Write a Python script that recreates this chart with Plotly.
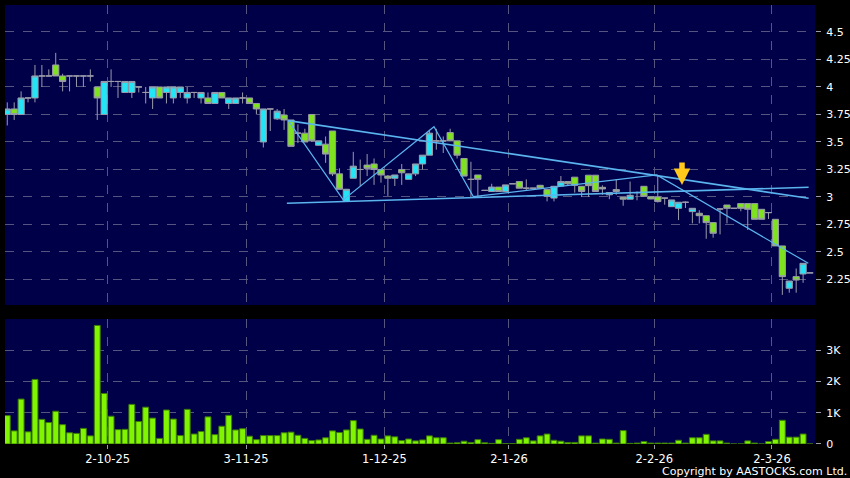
import plotly.graph_objects as go

# ---- data (index = trading-day position) ----
opens = [3.75,3.80,3.75,3.90,3.90,4.10,4.10,4.20,4.10,4.10,4.10,4.10,4.10,4.00,3.75,4.05,4.05,3.95,3.95,4.00,
         3.95,3.90,4.00,3.95,3.90,3.95,3.90,3.95,3.90,3.90,3.85,3.95,3.85,3.85,3.90,3.90,3.85,3.50,3.80,3.71,
         3.745,3.70,3.58,3.58,3.75,3.47,3.48,3.60,3.21,2.96,3.17,3.25,3.29,3.30,3.25,3.19,3.17,3.25,3.16,3.21,
         3.30,3.38,3.51,3.51,3.585,3.51,3.35,3.16,3.20,3.06,3.05,3.09,3.05,3.12,3.14,3.08,3.08,3.106,3.067,2.99,
         3.10,3.14,3.18,3.097,3.198,3.198,3.088,3.02,3.067,2.997,2.98,3.04,3.097,3.003,3.00,2.99,2.912,2.897,2.952,2.867,
         2.852,2.83,2.767,2.891,2.927,2.897,2.94,2.94,2.94,2.888,2.858,2.797,2.555,2.17,2.276,2.30,2.31]
highs = [3.86,3.86,3.96,3.90,4.20,4.20,4.16,4.31,4.12,4.10,4.10,4.10,4.16,4.00,4.05,4.16,4.05,4.05,4.05,4.00,
         4.00,4.00,4.00,4.00,4.00,4.00,4.00,3.95,3.95,3.95,3.95,3.95,3.90,3.90,3.95,3.90,3.85,3.80,3.80,3.80,
         3.80,3.70,3.66,3.62,3.75,3.51,3.55,3.60,3.26,3.07,3.41,3.34,3.39,3.35,3.25,3.20,3.20,3.30,3.21,3.30,
         3.38,3.61,3.62,3.55,3.62,3.51,3.35,3.32,3.20,3.06,3.12,3.09,3.11,3.12,3.14,3.16,3.08,3.11,3.07,3.10,
         3.19,3.14,3.18,3.10,3.198,3.198,3.106,3.04,3.16,2.997,3.14,3.05,3.097,3.003,3.19,2.99,2.973,2.952,2.96,2.897,
         2.88,2.83,2.767,2.891,2.927,2.897,2.94,2.94,2.94,2.888,2.858,2.797,2.555,2.236,2.35,2.397,2.31]
lows = [3.65,3.70,3.75,3.86,3.86,4.00,4.10,4.10,3.96,3.96,4.00,4.00,4.05,3.70,3.75,4.00,3.90,3.95,3.90,3.95,
        3.85,3.80,3.90,3.85,3.85,3.90,3.85,3.90,3.85,3.85,3.85,3.90,3.80,3.85,3.85,3.85,3.75,3.45,3.60,3.70,
        3.61,3.46,3.49,3.50,3.50,3.47,3.31,3.19,3.07,2.96,3.17,3.10,3.19,3.11,3.13,3.01,3.10,3.11,3.16,3.19,
        3.25,3.38,3.43,3.40,3.51,3.35,3.19,3.00,3.00,3.06,3.05,3.05,3.05,3.12,3.08,3.06,3.08,3.08,2.96,2.96,
        3.10,3.10,3.04,3.00,3.00,3.05,3.02,2.98,3.02,2.92,2.98,2.97,3.00,2.98,2.95,2.93,2.912,2.79,2.90,2.76,
        2.76,2.62,2.63,2.66,2.76,2.897,2.87,2.70,2.797,2.797,2.80,2.555,2.11,2.13,2.13,2.22,2.31]
closes = [3.80,3.75,3.90,3.90,4.10,4.10,4.10,4.10,4.05,4.10,4.10,4.10,4.10,3.90,4.05,4.05,4.05,4.05,4.05,4.00,
          3.95,4.00,3.90,4.00,4.00,4.00,3.95,3.95,3.95,3.85,3.95,3.90,3.90,3.90,3.90,3.85,3.80,3.80,3.80,3.78,
          3.70,3.46,3.58,3.50,3.51,3.51,3.39,3.21,3.07,3.07,3.28,3.25,3.26,3.25,3.20,3.17,3.20,3.22,3.21,3.30,
          3.38,3.58,3.51,3.51,3.51,3.38,3.19,3.16,3.16,3.06,3.09,3.05,3.11,3.12,3.08,3.08,3.08,3.08,3.006,3.097,
          3.14,3.12,3.106,3.05,3.103,3.05,3.073,3.04,3.05,2.98,3.015,3.04,3.006,2.982,2.958,2.99,2.973,2.952,2.952,2.897,
          2.83,2.767,2.67,2.891,2.897,2.897,2.897,2.888,2.797,2.797,2.858,2.555,2.276,2.236,2.245,2.397,2.31]
volumes = [910,420,1440,390,2070,790,690,1050,620,360,340,500,260,3800,1620,890,460,470,1270,720,
           1180,830,180,1090,800,270,1110,320,400,870,300,570,920,450,490,250,140,270,270,270,
           360,380,280,180,110,130,200,420,370,450,750,480,150,280,160,260,230,110,160,100,
           130,260,200,200,30,40,90,50,140,40,20,140,10,10,150,200,100,260,320,120,
           90,50,50,260,260,30,160,150,30,430,20,30,80,30,30,30,30,120,30,200,
           200,310,100,100,30,0,0,100,30,0,80,150,760,220,220,320,0]
idx = list(range(len(closes)))

# x-axis date labels (placed at slot boundaries)
tick_pos = [14.5, 34.5, 54.5, 72.5, 93.5, 110.5]
tick_text = ["2-10-25", "3-11-25", "1-12-25", "2-1-26", "2-2-26", "2-3-26"]

price_ticks = [2.25, 2.5, 2.75, 3, 3.25, 3.5, 3.75, 4, 4.25, 4.5]
price_labels = ["2.25", "2.5", "2.75", "3", "3.25", "3.5", "3.75", "4", "4.25", "4.5"]
vol_ticks = [0, 1000, 2000, 3000]
vol_labels = ["0", "1K", "2K", "3K"]

# user-drawn trend lines: (index, price) endpoints
res_line_x = [40.6, 115.8]; res_line_y = [3.694, 2.988]
sup_line_x = [40.4, 115.8]; sup_line_y = [2.943, 3.088]
zig_x = [40.6, 48.55, 61.66, 67.34, 93.84, 115.75]
zig_y = [3.694, 2.973, 3.639, 3.003, 3.20, 2.397]
arrow_x = 97.5; arrow_y = 3.11

BG = "#000048"
GRID = "#55557f"
WICK = "#9a9aaa"
CYAN = "#22e6f6"
GREEN = "#7fe21e"
VOLG = "#80f400"
LINE = "#5ab4ee"
FONT = "DejaVu Sans"

fig = go.Figure()
fig.add_trace(go.Candlestick(
    x=idx, open=opens, high=highs, low=lows, close=closes,
    increasing=dict(fillcolor=CYAN, line=dict(color=WICK, width=1)),
    decreasing=dict(fillcolor=GREEN, line=dict(color=WICK, width=1)),
    whiskerwidth=0, xaxis="x", yaxis="y", hoverinfo="skip", showlegend=False))

for lx, ly, w in [(res_line_x, res_line_y, 1.6), (sup_line_x, sup_line_y, 1.6), (zig_x, zig_y, 1.2)]:
    fig.add_trace(go.Scatter(x=lx, y=ly, mode="lines", line=dict(color=LINE, width=w),
                             xaxis="x", yaxis="y", showlegend=False, hoverinfo="skip"))

fig.add_trace(go.Bar(x=idx, y=volumes, width=0.85,
                     marker=dict(color=VOLG, line=dict(color="#3b7a08", width=1)),
                     xaxis="x2", yaxis="y2", showlegend=False, hoverinfo="skip"))

fig.add_annotation(x=arrow_x, y=arrow_y, xref="x", yref="y", ax=0, ay=-24,
                   showarrow=True, arrowhead=2, arrowsize=0.6, arrowwidth=5.5,
                   arrowcolor="#ffc81a", text="")

fig.add_annotation(text="Copyright by AASTOCKS.com Ltd.", xref="paper", yref="paper",
                   x=1.042, y=-0.062, xanchor="right", yanchor="middle", showarrow=False,
                   font=dict(color="white", size=11, family=FONT))

xcommon = dict(range=[-0.33, 116.72], tickvals=tick_pos, showgrid=True, gridcolor=GRID,
               griddash="dash", gridwidth=1, zeroline=False, showline=False, automargin=False)
ycommon = dict(side="right", ticks="outside", ticklen=5, tickcolor=WICK, ticklabelstandoff=3,
               showgrid=True, gridcolor=GRID, griddash="dash", zeroline=False, automargin=False,
               tickfont=dict(color="white", size=11))
fig.update_layout(
    width=850, height=478, paper_bgcolor="black", plot_bgcolor=BG,
    margin=dict(l=5, r=35, t=5, b=34), boxgap=0.1, boxgroupgap=0, bargap=0.1,
    font=dict(family=FONT, color="white", size=11),
    xaxis=dict(**xcommon, anchor="y", showticklabels=False, ticks="", rangeslider=dict(visible=False)),
    xaxis2=dict(**xcommon, anchor="y2", matches="x", ticktext=tick_text, ticks="outside",
                ticklen=4, tickcolor=WICK, tickfont=dict(color="white", size=11.5)),
    yaxis=dict(**ycommon, domain=[0.3166, 1], range=[2.018, 4.745], tickvals=price_ticks,
               ticktext=price_labels),
    yaxis2=dict(**ycommon, domain=[0, 0.2847], range=[0, 4006], tickvals=vol_ticks,
                ticktext=vol_labels),
    showlegend=False,
)
fig.write_html("out.html", config={"displayModeBar": False},
               post_script="document.body.style.margin='0';document.body.style.overflow='hidden';")
